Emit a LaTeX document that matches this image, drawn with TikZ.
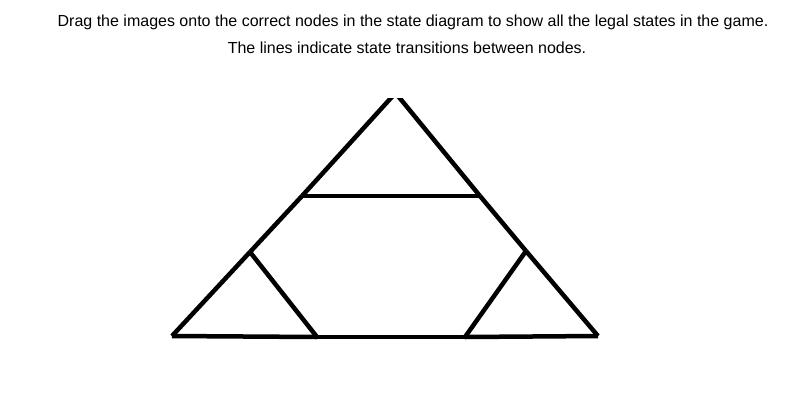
\documentclass[tikz,border=0pt]{standalone}
\usepackage{fontspec}
\setmainfont{Liberation Sans}
\usetikzlibrary{calc}
\begin{document}
\begin{tikzpicture}[x=1pt,y=-1pt,
  edge/.style={line width=4.5pt, black},
  caption/.style={font=\fontsize{16}{18}\selectfont, inner sep=0pt, anchor=base}]
\useasboundingbox (0,0) rectangle (800,400);
\node[caption] (t1) at (413,26) {Drag the images onto the correct nodes in the state diagram to show all the legal states in the game.};
\node[caption] (t2) at (407,53) {The lines indicate state transitions between nodes.};
\coordinate (A) at (390,99);
\coordinate (A2) at (400.5,99);
\coordinate (B) at (302,196);
\coordinate (C) at (480,196);
\coordinate (D) at (250,252);
\coordinate (E) at (526,251);
\coordinate (F) at (172,336);
\coordinate (G) at (317,337);
\coordinate (H) at (465,337);
\coordinate (I) at (598,336);
\begin{scope}
\clip (0,98.5) rectangle (800,400);
\draw[edge] (B) -- ($(B)!1.05!(A)$);
\draw[edge] (C) -- ($(C)!1.05!(A2)$);
\end{scope}
\draw[edge] (F) -- (D);
\draw[edge] (D) -- (B);
\draw[edge] (C) -- (E);
\draw[edge] (E) -- (I);
\draw[edge] (B) -- (C);
\draw[edge] (D) -- (G);
\draw[edge] (E) -- (H);
\draw[edge] (F) -- (G);
\draw[edge] (G) -- (H);
\draw[edge] (H) -- (I);
\end{tikzpicture}
\end{document}
